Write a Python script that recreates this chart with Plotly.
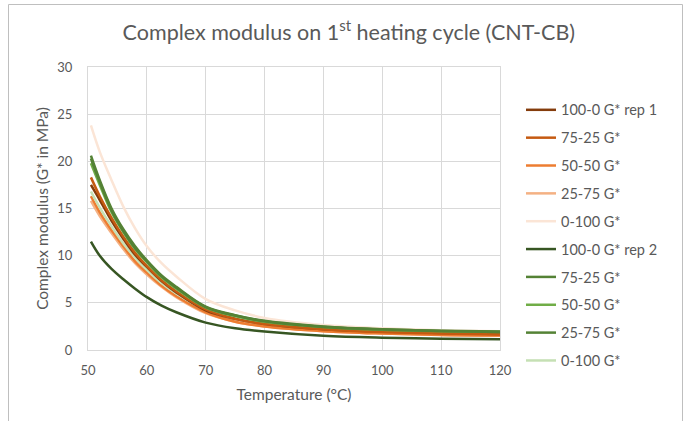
import plotly.graph_objects as go

# Temperature grid (°C) at which G* was sampled
temperature = [50.5, 52, 54, 56, 58, 60, 62.5, 65, 70, 75, 80, 90, 100, 110, 120]

# Complex modulus G* (MPa) for each CNT-CB ratio
cb_100_0_rep1 = [17.5, 15.9, 13.7, 11.8, 10.1, 8.8, 7.3, 6.1, 4.2, 3.3, 2.75, 2.2, 1.95, 1.8, 1.7]
cb_75_25_rep1 = [18.3, 16.3, 14.0, 12.0, 10.3, 8.9, 7.4, 6.2, 4.3, 3.3, 2.75, 2.2, 1.9, 1.75, 1.65]
cb_50_50_rep1 = [16.3, 14.6, 12.7, 11.0, 9.4, 8.2, 6.8, 5.7, 4.0, 3.0, 2.5, 2.0, 1.75, 1.6, 1.55]
cb_25_75_rep1 = [15.8, 14.2, 12.4, 10.7, 9.2, 8.0, 6.7, 5.6, 3.9, 3.0, 2.5, 2.0, 1.75, 1.6, 1.5]
cb_0_100_rep1 = [23.8, 21.0, 18.0, 15.2, 12.9, 11.0, 9.2, 7.8, 5.4, 4.2, 3.4, 2.65, 2.3, 2.1, 2.0]
cb_100_0_rep2 = [11.5, 10.0, 8.6, 7.5, 6.5, 5.6, 4.7, 4.0, 2.9, 2.3, 1.95, 1.5, 1.3, 1.2, 1.13]
cb_75_25_rep2 = [20.6, 18.0, 15.0, 12.8, 11.0, 9.5, 7.9, 6.7, 4.6, 3.7, 3.1, 2.5, 2.2, 2.05, 1.95]
cb_50_50_rep2 = [19.8, 17.5, 14.6, 12.5, 10.7, 9.3, 7.7, 6.5, 4.5, 3.6, 3.0, 2.45, 2.15, 2.0, 1.9]
cb_25_75_rep2 = [20.3, 17.8, 14.8, 12.6, 10.8, 9.4, 7.8, 6.6, 4.55, 3.65, 3.05, 2.45, 2.2, 2.02, 1.92]
cb_0_100_rep2 = [16.8, 15.1, 13.1, 11.3, 9.8, 8.5, 7.1, 6.0, 4.3, 3.4, 2.9, 2.35, 2.1, 1.95, 1.85]

series_names = ["100-0 G* rep 1", "75-25 G*", "50-50 G*", "25-75 G*", "0-100 G*",
                "100-0 G* rep 2", "75-25 G*", "50-50 G*", "25-75 G*", "0-100 G*"]
series_values = [cb_100_0_rep1, cb_75_25_rep1, cb_50_50_rep1, cb_25_75_rep1, cb_0_100_rep1,
                 cb_100_0_rep2, cb_75_25_rep2, cb_50_50_rep2, cb_25_75_rep2, cb_0_100_rep2]
series_colors = ["#843C0C", "#C55A11", "#ED7D31", "#F4B183", "#FBE5D6",
                 "#375623", "#548235", "#70AD47", "#548235", "#C5E0B4"]

x_ticks = [50, 60, 70, 80, 90, 100, 110, 120]
y_ticks = [0, 5, 10, 15, 20, 25, 30]

text_color = "#595959"
grid_color = "#D9D9D9"
font_family = "Lato, 'Open Sans', sans-serif"

# Paler curves are drawn first so darker ones sit on top
draw_order = [4, 3, 2, 9, 0, 1, 5, 7, 8, 6]

fig = go.Figure()
for i in draw_order:
    fig.add_trace(go.Scatter(
        x=temperature, y=series_values[i], name=series_names[i], mode="lines",
        line=dict(color=series_colors[i], width=2.5, shape="spline", smoothing=1.0),
        legendgroup=f"g{i}", legendrank=1000 + i,
    ))

fig.update_layout(
    width=684, height=421,
    margin=dict(l=88, r=184, t=67, b=71),
    paper_bgcolor="white", plot_bgcolor="white",
    font=dict(family=font_family, color=text_color, size=13),
    title=dict(
        text="Complex modulus on 1<sup>st</sup> heating cycle (CNT-CB)",
        x=0.51, xref="container", xanchor="center",
        y=0.922, yref="container", yanchor="middle",
        font=dict(size=21.5, color=text_color, family=font_family),
    ),
    xaxis=dict(
        range=[50, 120], tickvals=x_ticks, showgrid=True, gridcolor=grid_color,
        gridwidth=1, zeroline=False, showline=True, linecolor=grid_color,
        ticks="", ticklabelstandoff=8, tickfont=dict(size=13, color=text_color),
        title=dict(text="Temperature (°C)", font=dict(size=15.5, color=text_color), standoff=12),
        mirror=True,
    ),
    yaxis=dict(
        range=[0, 30], tickvals=y_ticks, showgrid=True, gridcolor=grid_color,
        gridwidth=1, zeroline=False, showline=True, linecolor=grid_color,
        ticks="", ticklabelstandoff=12, tickfont=dict(size=13, color=text_color),
        title=dict(text="Complex modulus (G* in MPa)", font=dict(size=15.5, color=text_color), standoff=4),
        mirror=True,
    ),
    legend=dict(
        x=1.051, xanchor="left", y=0.905, yanchor="top",
        font=dict(size=14.5, color=text_color, family=font_family),
        tracegroupgap=6, itemwidth=30, bgcolor="rgba(0,0,0,0)",
        traceorder="grouped", maxheight=1.0,
    ),
    showlegend=True,
)

# Chart frame
fig.add_shape(type="rect", xref="paper", yref="paper",
              x0=(8.5 - 88) / 412, x1=(682.5 - 88) / 412,
              y0=(350 - 430) / 283, y1=(350 - 4.5) / 283,
              line=dict(color="#BFBFBF", width=1), fillcolor="rgba(0,0,0,0)", layer="below")

fig.write_html("out.html")
